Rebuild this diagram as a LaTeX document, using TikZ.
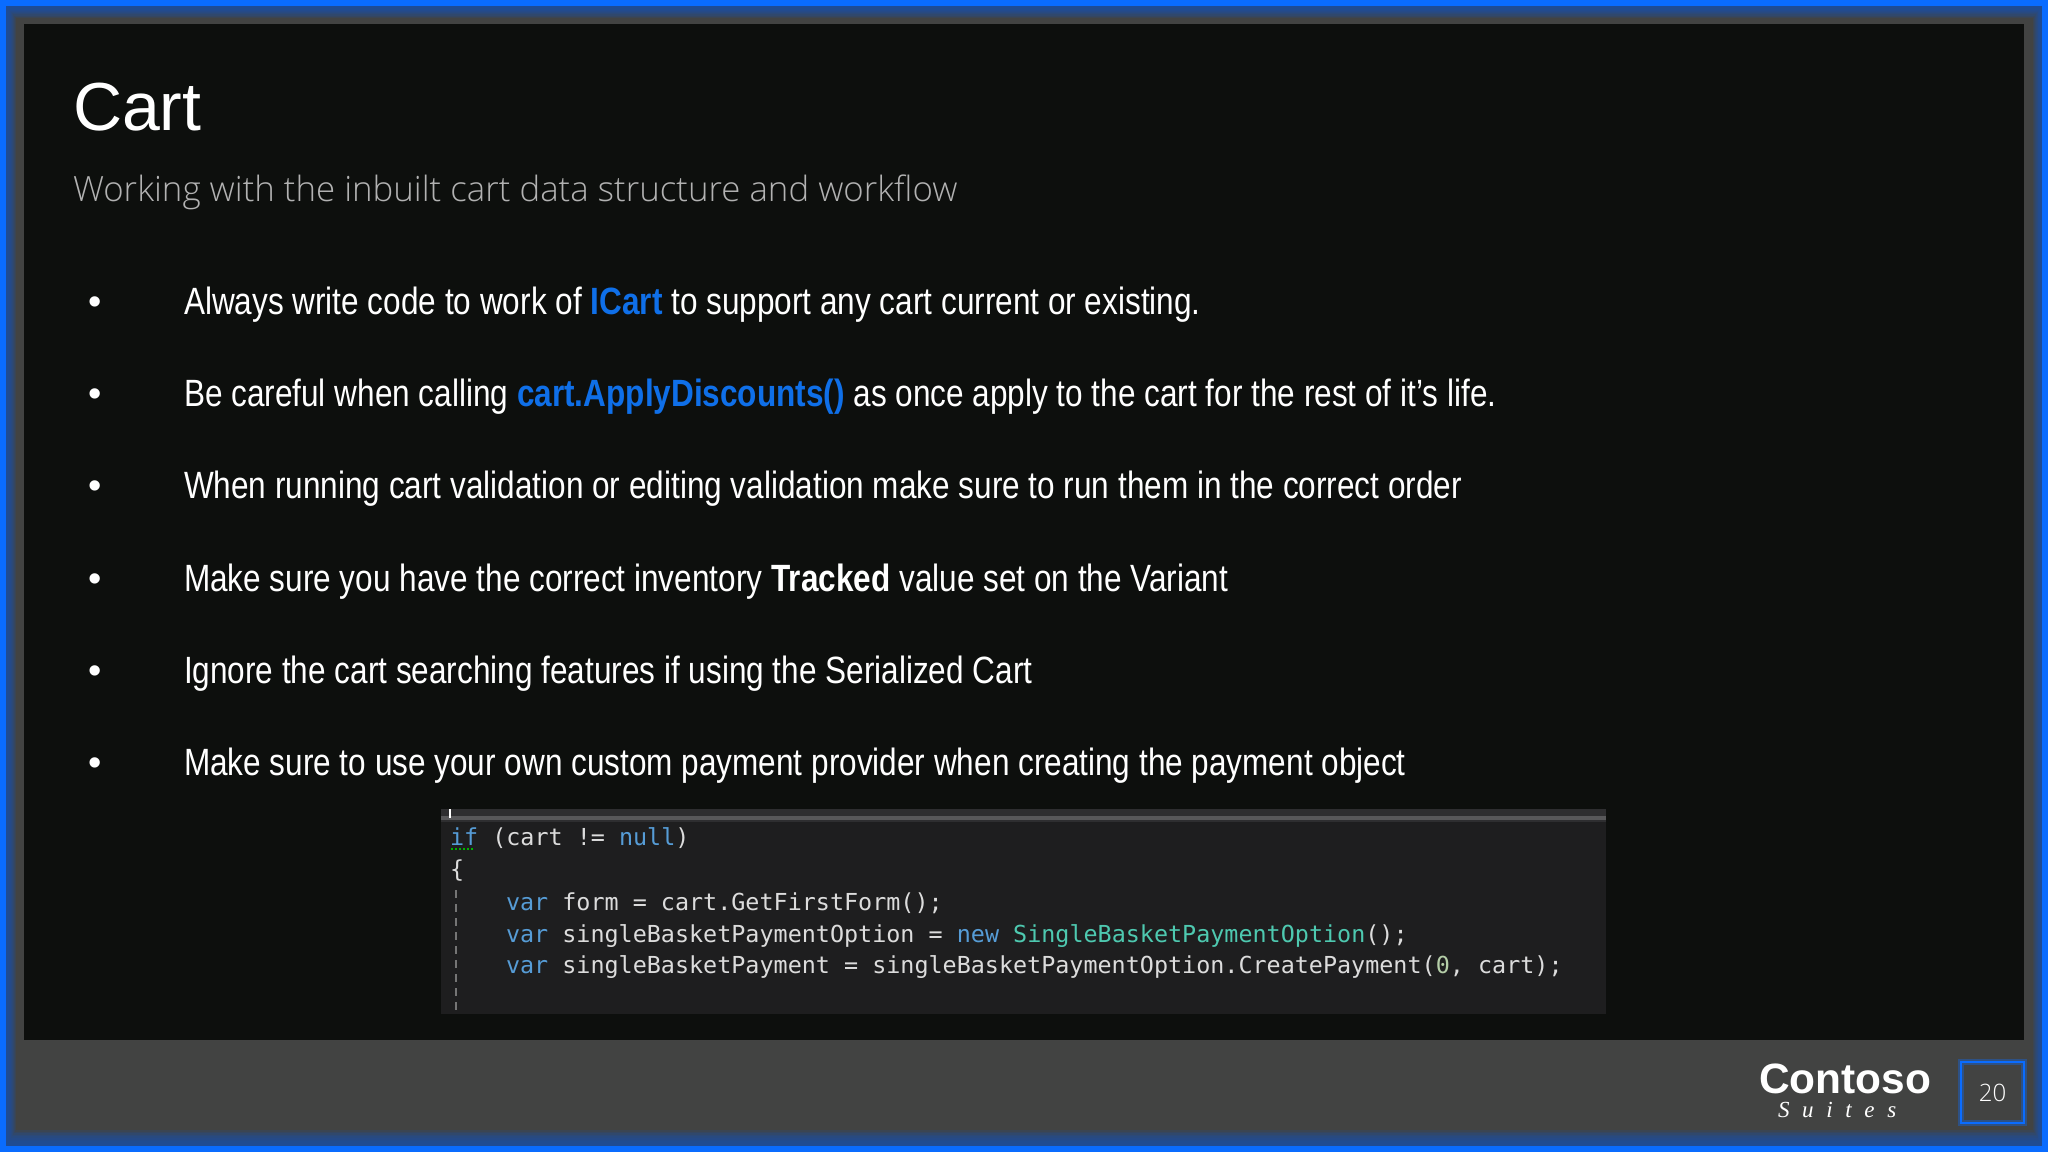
\documentclass[tikz,border=0pt]{standalone}
\usepackage{fontspec}
\usetikzlibrary{positioning}
\setmainfont{Liberation Sans}
\newfontfamily\bodyfont[FakeStretch=0.83]{Liberation Sans}
\newfontfamily\subfont{Open Sans Light}
\newfontfamily\codefont{DejaVu Sans Mono}
\newfontfamily\suitesfont[LetterSpace=55]{Liberation Serif}
\definecolor{edgeblue}{HTML}{0A6CFF}
\definecolor{glowblue}{HTML}{1F4C95}
\definecolor{footgrey}{HTML}{424342}
\definecolor{slideblack}{HTML}{0D0F0D}
\definecolor{codebg}{HTML}{1E1E1F}
\definecolor{codebar}{HTML}{2E2E30}
\definecolor{barstripe}{HTML}{58585A}
\definecolor{guidegrey}{HTML}{757575}
\definecolor{codetext}{HTML}{DCDCDC}
\definecolor{kwblue}{HTML}{569CD6}
\definecolor{typeteal}{HTML}{4EC9B0}
\definecolor{numgreen}{HTML}{B5CEA8}
\definecolor{linkblue}{HTML}{0F6FE8}
\tikzset{
	textline/.style={anchor=base west, inner sep=0pt, outer sep=0pt},
	bulletline/.style={textline, text=white, font=\bodyfont\fontsize{19}{23}\selectfont},
	bulletdot/.style={anchor=base, inner sep=0pt, text=white, font=\fontsize{19}{23}\selectfont},
	codeline/.style={textline, text=codetext, font=\codefont\fontsize{11.7}{14}\selectfont},
}
\newcommand{\kw}[1]{\textcolor{kwblue}{#1}}
\newcommand{\hl}[1]{\textcolor{linkblue}{\textbf{#1}}}

\begin{document}
\begin{tikzpicture}[x=0.5pt, y=-0.5pt]
		\useasboundingbox (0,0) rectangle (2048,1152);

		% Frame and glow
		\fill[edgeblue] (0,0) rectangle (2048,1152);
		\foreach \i [evaluate=\i as \pct using 100-\i*\i] in {0,...,10}
			\fill[glowblue!\pct!footgrey] (6+\i,6+1.2*\i) rectangle (2042-0.9*\i,1146-1.6*\i);
		\fill[slideblack] (24,24) rectangle (2024,1040);

		% Heading
		\node (title) at (73,130) [textline, text=white, font=\fontsize{34}{40}\selectfont] {Cart};
		\node (subtitle) at (73,201) [textline, text=white!70!black, font=\subfont\fontsize{17.4}{22}\selectfont] {Working with the inbuilt cart data structure and workflow};

		% Bullets
		\foreach \n/\ypos in {1/314,2/406,3/498,4/591,5/683,6/775}
			\node (dot\n) at (95,\ypos) [bulletdot] {•};
		\node (line1) at (184,314) [bulletline] {Always write code to work of \hl{ICart} to support any cart current or existing.};
		\node (line2) at (184,406) [bulletline] {Be careful when calling \hl{cart.ApplyDiscounts()} as once apply to the cart for the rest of it’s life.};
		\node (line3) at (184,498) [bulletline] {When running cart validation or editing validation make sure to run them in the correct order};
		\node (line4) at (184,591) [bulletline] {Make sure you have the correct inventory \textbf{Tracked} value set on the Variant};
		\node (line5) at (184,683) [bulletline] {Ignore the cart searching features if using the Serialized Cart};
		\node (line6) at (184,775) [bulletline] {Make sure to use your own custom payment provider when creating the payment object};

		% Code panel
		\fill[codebg] (441,809) rectangle (1606,1014);
		\fill[codebar] (441,809) rectangle (1606,822);
		\fill[barstripe] (441,816) rectangle (1606,820);
		\draw[white, line width=1pt] (450,809) -- (450,818);
		\draw[guidegrey, line width=0.6pt, dash pattern=on 4pt off 3pt] (456,890) -- (456,1014);
		\draw[green!70!black, line width=1pt, densely dotted] (451,849) -- (473,849);
		\node (code1) at (450,845) [codeline] {\kw{if} (cart != \kw{null})};
		\node (code2) at (450,877) [codeline] {\{};
		\node (code3) at (506,910) [codeline] {\kw{var} form = cart.GetFirstForm();};
		\node (code4) at (506,942) [codeline] {\kw{var} singleBasketPaymentOption = \kw{new} \textcolor{typeteal}{SingleBasketPaymentOption}();};
		\node (code5) at (506,973) [codeline] {\kw{var} singleBasketPayment = singleBasketPaymentOption.CreatePayment(\textcolor{numgreen}{0}, cart);};

		% Footer
		\node (brand) at (1759,1093) [textline, text=white, font=\bfseries\fontsize{21.2}{25}\selectfont] {Contoso};
		\node (suites) at (1778,1117) [textline, text=white, font=\suitesfont\itshape\fontsize{11.5}{14}\selectfont] {Suites};
		\draw[edgeblue!35!footgrey, line width=3pt] (1961,1062) rectangle (2024,1123);
		\node (pagebox) at (1992.5,1092.5) [draw=edgeblue, line width=0.8pt, minimum width=31.5pt, minimum height=30.5pt, inner sep=0pt, text=white, font=\subfont\fontsize{12}{14}\selectfont] {20};
\end{tikzpicture}
\end{document}
